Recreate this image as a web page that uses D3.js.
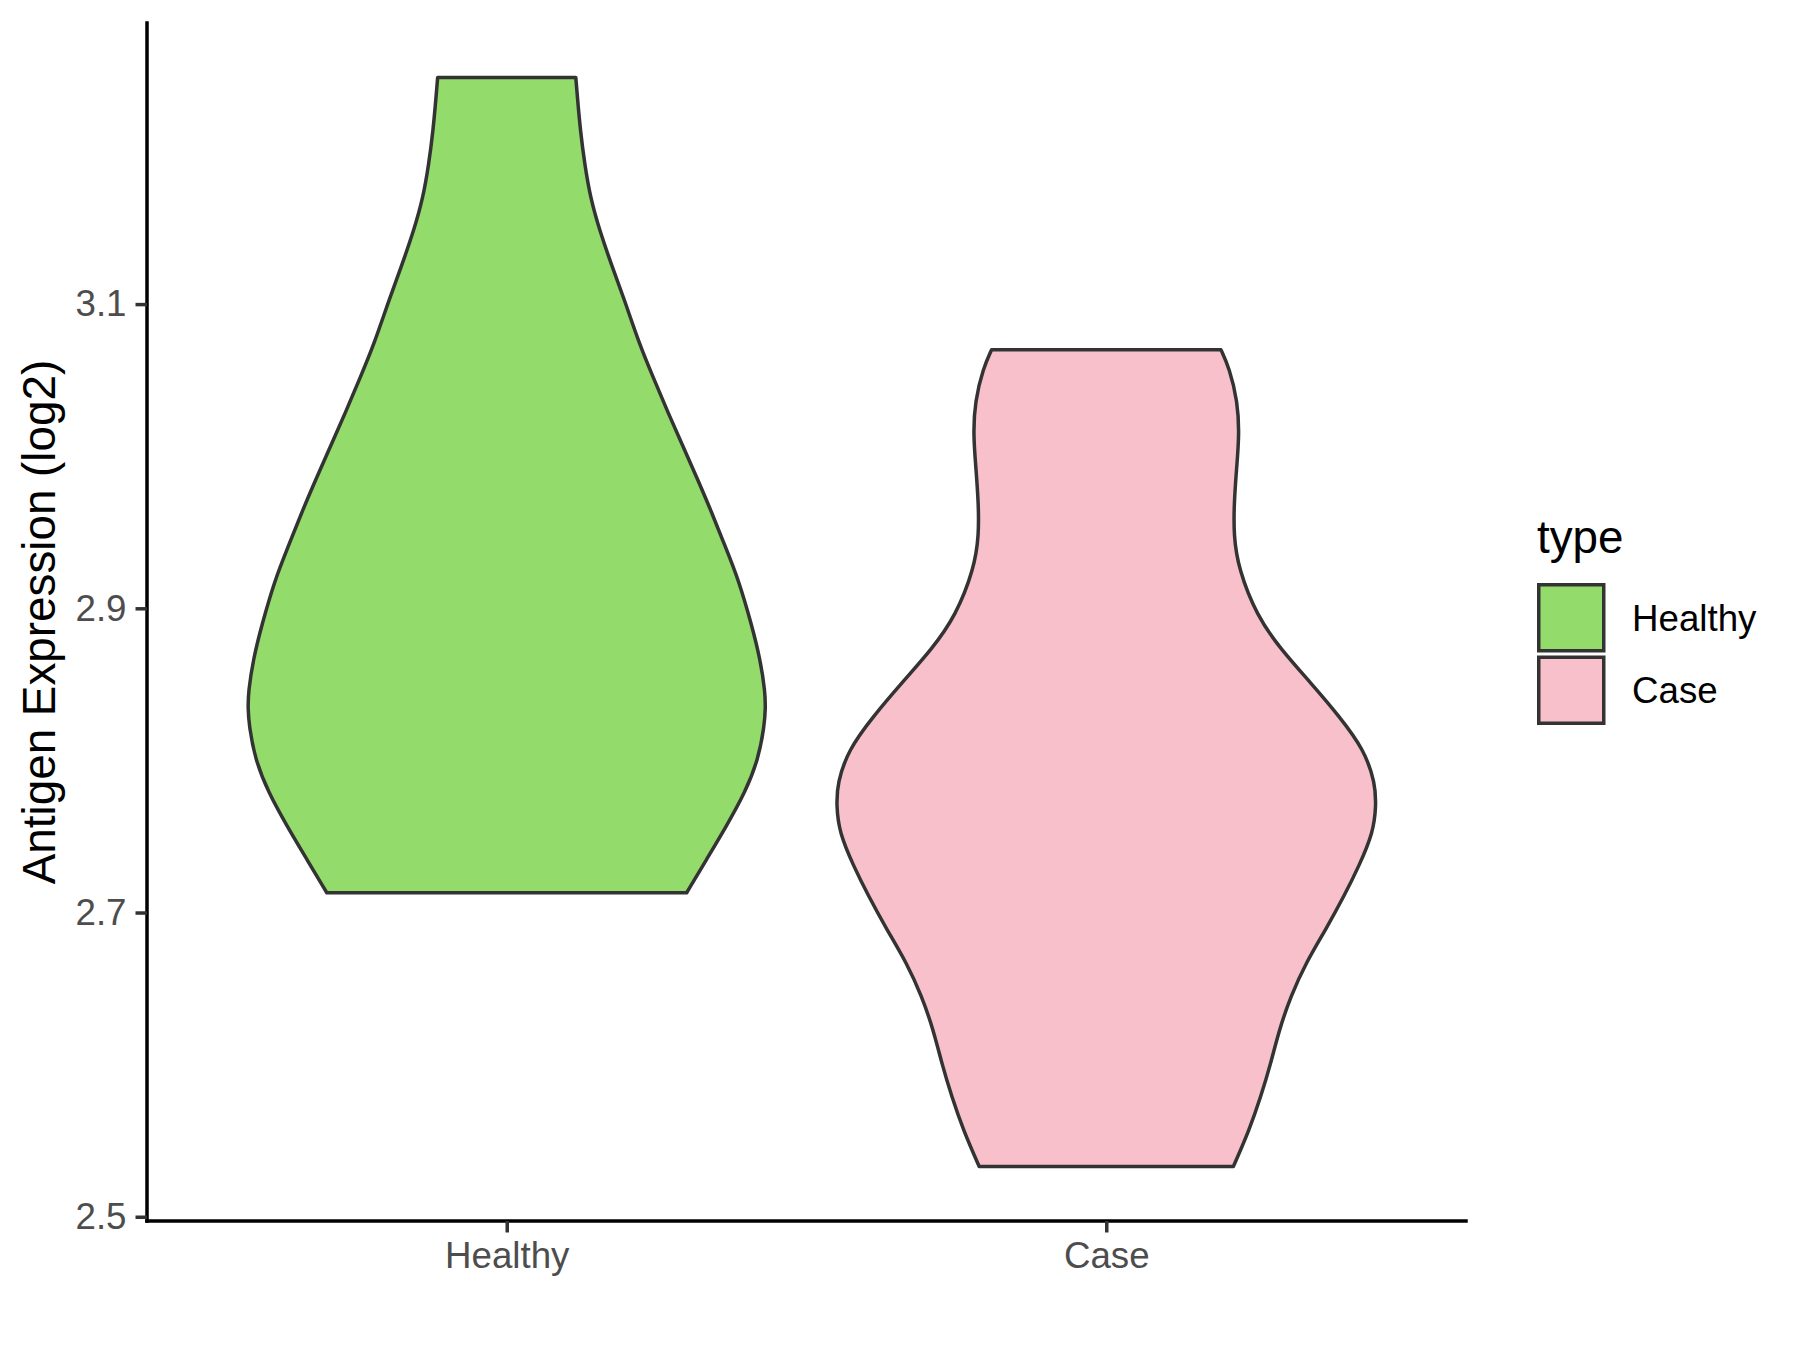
<!DOCTYPE html>
<html>
<head>
<meta charset="utf-8">
<script src="https://cdn.jsdelivr.net/npm/d3@7"></script>
<style>
  body { margin: 0; background: #fff; }
  text { font-family: "Liberation Sans", Arial, sans-serif; }
</style>
</head>
<body>
<div id="chart"></div>
<script>
// data: violin outline (value, relative half width)
var categories = ["Healthy", "Case"];
var fills = ["#93DB6A", "#F7C0CB"];

var healthyValue = [2.713, 2.735, 2.757, 2.779, 2.801, 2.823, 2.834, 2.845, 2.867, 2.889, 2.919, 2.941, 2.963,
                    2.985, 3.007, 3.029, 3.051, 3.073, 3.104, 3.126, 3.148, 3.170, 3.192, 3.214, 3.236, 3.249];
var healthyWidth = [0.667, 0.741, 0.815, 0.884, 0.933, 0.955, 0.959, 0.958, 0.939, 0.908, 0.859, 0.809, 0.760,
                    0.707, 0.652, 0.597, 0.545, 0.493, 0.434, 0.388, 0.345, 0.310, 0.289, 0.273, 0.262, 0.256];

var caseValue = [2.533, 2.557, 2.579, 2.601, 2.623, 2.645, 2.667, 2.689, 2.711, 2.731, 2.753, 2.770, 2.785,
                 2.807, 2.829, 2.851, 2.873, 2.895, 2.926, 2.948, 2.970, 2.992, 3.014, 3.036, 3.058, 3.070];
var caseWidth = [0.471, 0.530, 0.573, 0.610, 0.641, 0.684, 0.740, 0.814, 0.882, 0.938, 0.990, 1.000, 0.997,
                 0.956, 0.864, 0.758, 0.647, 0.558, 0.490, 0.472, 0.474, 0.483, 0.493, 0.487, 0.456, 0.425];

var yTicks = [2.5, 2.7, 2.9, 3.1];

var groups = [
  { name: "Healthy", values: healthyValue, widths: healthyWidth },
  { name: "Case", values: caseValue, widths: caseWidth }
];

// layout
var width = 1800, height = 1350;
var plot_left = 147, plot_right = 1466, plot_top = 23, plot_bottom = 1221;
var line_col = "#333333";
var text_col = "#4D4D4D";
var line_width = 3.5;
var tick_font = 36.7, title_font = 45.8;

var svg = d3.select("#chart").append("svg")
  .attr("width", width)
  .attr("height", height);

// y range with ggplot's 5% expansion
var allV = healthyValue.concat(caseValue);
var vmin = d3.min(allV), vmax = d3.max(allV);
var pad = (vmax - vmin) * 0.05;

var y = d3.scaleLinear().domain([vmin - pad, vmax + pad]).range([plot_bottom, plot_top]);
var x = d3.scalePoint().domain(categories).range([plot_left, plot_right]).padding(0.6);
var w = d3.scaleLinear().domain([0, 1]).range([0, 0.45 * x.step()]);
var color = d3.scaleOrdinal().domain(categories).range(fills);

// violins
groups.forEach(function(g) {
  var cx = x(g.name);
  var pts = g.values.map(function(v, i) { return { v: v, w: g.widths[i] }; });
  var area = d3.area()
    .curve(d3.curveBasis)
    .y(function(d) { return y(d.v); })
    .x0(function(d) { return cx - w(d.w); })
    .x1(function(d) { return cx + w(d.w); });
  svg.append("path")
    .attr("d", area(pts))
    .attr("fill", color(g.name))
    .attr("stroke", line_col)
    .attr("stroke-width", line_width)
    .attr("stroke-linejoin", "round");
});

// axes
var yAxis = svg.append("g")
  .attr("transform", "translate(" + plot_left + ",0)")
  .call(d3.axisLeft(y).tickValues(yTicks).tickFormat(d3.format(".1f"))
        .tickSize(11.5).tickSizeOuter(0).tickPadding(9));
yAxis.select(".domain").attr("d", "M0," + plot_bottom + "V" + plot_top);

var xAxis = svg.append("g")
  .attr("transform", "translate(0," + plot_bottom + ")")
  .call(d3.axisBottom(x).tickSize(11.5).tickSizeOuter(0).tickPadding(9));
xAxis.select(".domain").attr("d", "M" + plot_left + ",0H" + plot_right);

svg.selectAll(".domain")
  .attr("stroke", "#000")
  .attr("stroke-width", line_width)
  .attr("stroke-linecap", "square");
svg.selectAll(".tick line")
  .attr("stroke", line_col)
  .attr("stroke-width", line_width);
svg.selectAll(".tick text")
  .attr("fill", text_col)
  .style("font-size", tick_font + "px")
  .style("font-family", "Liberation Sans, Arial, sans-serif");

// y title
svg.append("text")
  .attr("transform", "translate(55," + ((plot_top + plot_bottom) / 2) + ") rotate(-90)")
  .attr("text-anchor", "middle")
  .style("font-size", title_font + "px")
  .attr("fill", "#000")
  .text("Antigen Expression (log2)");

// legend
var legend = svg.append("g").attr("transform", "translate(1537,0)");
legend.append("text")
  .attr("x", 0)
  .attr("y", 553)
  .style("font-size", title_font + "px")
  .attr("fill", "#000")
  .text("type");

var key = 72.5;
var keys = legend.selectAll("g.key")
  .data(categories)
  .enter().append("g")
  .attr("class", "key")
  .attr("transform", function(d, i) { return "translate(0," + (583 + i * key) + ")"; });
keys.append("rect")
  .attr("x", 1.75)
  .attr("y", 1.75)
  .attr("width", 65)
  .attr("height", 66)
  .attr("fill", function(d) { return color(d); })
  .attr("stroke", line_col)
  .attr("stroke-width", line_width);
keys.append("text")
  .attr("x", 95)
  .attr("y", 34.5 + 13)
  .style("font-size", tick_font + "px")
  .attr("fill", "#000")
  .text(function(d) { return d; });
</script>
</body>
</html>
